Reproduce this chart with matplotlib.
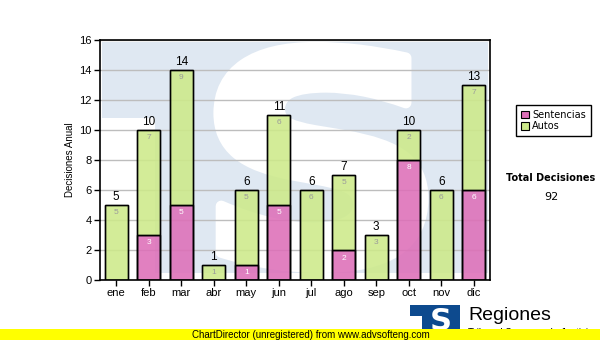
import matplotlib
matplotlib.use("Agg")
import matplotlib.pyplot as plt
import numpy as np
from matplotlib.patches import Rectangle, PathPatch
from matplotlib.textpath import TextPath
from matplotlib.font_manager import FontProperties
from matplotlib.transforms import Affine2D

# decisiones por mes
meses = ["ene", "feb", "mar", "abr", "may", "jun", "jul", "ago", "sep", "oct", "nov", "dic"]
sentencias = [0, 3, 5, 0, 1, 5, 0, 2, 0, 8, 0, 6]
autos = [5, 7, 9, 1, 5, 6, 6, 5, 3, 2, 6, 7]
y_ticks = [0, 2, 4, 6, 8, 10, 12, 14, 16]

plt.rcParams["font.family"] = ["Liberation Sans", "DejaVu Sans"]

col_sent = "#dd6fb8"
col_auto = "#cdea8a"
fondo = "#dfe8f2"

fig = plt.figure(figsize=(6, 3.4), dpi=100)
ax = fig.add_axes([100 / 600, 60 / 340, 390 / 600, 240 / 340])

# marca de agua: cuadro azul claro con la S blanca
ax.add_patch(Rectangle((0.005, 0.03), 0.99, 0.962, transform=ax.transAxes,
                       facecolor=fondo, edgecolor="none", zorder=0))
ax.add_patch(Rectangle((0.0, 0.0), 0.141, 0.675, transform=ax.transAxes,
                       facecolor="white", edgecolor="none", zorder=0.1))
tp = TextPath((0, 0), "S", size=1, prop=FontProperties(family="DejaVu Sans", weight="bold"))
ext = tp.get_extents()
x0, x1, y0, y1 = 0.305, 0.828, 0.052, 0.969
tr = Affine2D().translate(-ext.x0, -ext.y0).scale((x1 - x0) / ext.width, (y1 - y0) / ext.height).translate(x0, y0)
ax.add_patch(PathPatch(tr.transform_path(tp), transform=ax.transAxes,
                       facecolor="white", edgecolor="white", linewidth=8,
                       joinstyle="round", zorder=0.2))

x = np.arange(len(meses))
w = 0.71
ax.bar(x, sentencias, w, color=col_sent, edgecolor="black", linewidth=1, alpha=0.88, zorder=3)
ax.bar(x, autos, w, bottom=sentencias, color=col_auto, edgecolor="black", linewidth=1, alpha=0.88, zorder=3)
# borde opaco encima
ax.bar(x, np.add(sentencias, autos), w, fill=False, edgecolor="black", linewidth=1, zorder=4)
ax.bar(x, sentencias, w, fill=False, edgecolor=[("black" if s > 0 else "none") for s in sentencias],
       linewidth=1, zorder=4)

for i in range(len(meses)):
    s = sentencias[i]
    a = autos[i]
    if s > 0:
        ax.text(x[i], s - 0.3, str(s), ha="center", va="top", fontsize=6, color="white", zorder=5)
    if a > 0:
        ax.text(x[i], s + a - 0.3, str(a), ha="center", va="top", fontsize=6, color="#9a9a9a", zorder=5)
    ax.text(x[i], s + a + 0.1, str(s + a), ha="center", va="bottom", fontsize=8.5, color="black", zorder=5)

ax.set_xlim(-0.5, 11.5)
ax.set_ylim(0, 16)
ax.set_xticks(x)
ax.set_xticklabels(meses, fontsize=8)
ax.set_yticks(y_ticks)
ax.tick_params(axis="y", labelsize=8, length=4, width=1, pad=2)
ax.tick_params(axis="x", length=4, width=1, pad=2)
ax.yaxis.grid(True, color="#bdbdbd", linewidth=1, zorder=1)
ax.set_axisbelow(True)
for sp in ax.spines.values():
    sp.set_linewidth(1.2)
    sp.set_zorder(6)
ax.set_ylabel("Decisiones Anual", fontsize=7, labelpad=3)

# leyenda
leg_h = [Rectangle((0, 0), 1, 1, facecolor=col_sent, edgecolor="black", linewidth=0.8),
         Rectangle((0, 0), 1, 1, facecolor=col_auto, edgecolor="black", linewidth=0.8)]
leg = fig.legend(leg_h, ["Sentencias", "Autos"], loc="upper left",
                 bbox_to_anchor=(511 / 600, 1 - 100 / 340), bbox_transform=fig.transFigure,
                 fancybox=False, framealpha=1, edgecolor="black",
                 handlelength=0.8, handleheight=0.8, handletextpad=0.4, borderpad=0.5,
                 labelspacing=0.15, prop={"family": "DejaVu Sans", "size": 7})
leg.get_frame().set_linewidth(1)

fig.text(551 / 600, 1 - 178 / 340, "Total Decisiones", ha="center", va="center",
         fontsize=7, fontweight="bold", family="DejaVu Sans")
fig.text(551 / 600, 1 - 197 / 340, str(sum(sentencias) + sum(autos)), ha="center", va="center",
         fontsize=8, family="DejaVu Sans")

# logo inferior
fig.patches.append(Rectangle((410 / 600, 0), 50 / 600, 35 / 340,
                             transform=fig.transFigure, facecolor="#0d4a8e", edgecolor="none"))
fig.patches.append(Rectangle((410 / 600, 0), 12 / 600, 24 / 340,
                             transform=fig.transFigure, facecolor="white", edgecolor="none"))
fig.text(441 / 600, 1 - 322 / 340, "S", ha="center", va="center", fontsize=22,
         fontweight="bold", color="white", family="DejaVu Sans")
fig.text(468 / 600, 1 - 316 / 340, "Regiones", ha="left", va="center", fontsize=14, color="black")
fig.text(468 / 600, 1 - 333 / 340, "Tribunal Supremo de Justicia", ha="left", va="center",
         fontsize=7, color="black")

# franja amarilla
fig.patches.append(Rectangle((0, 0), 1, 11 / 340, transform=fig.transFigure,
                             facecolor="#ffff00", edgecolor="none", zorder=10))
fig.text(192 / 600, 5.5 / 340, "ChartDirector (unregistered) from www.advsofteng.com",
         ha="left", va="center", fontsize=7, color="black", zorder=11)

fig.savefig("out.png", dpi=100)
